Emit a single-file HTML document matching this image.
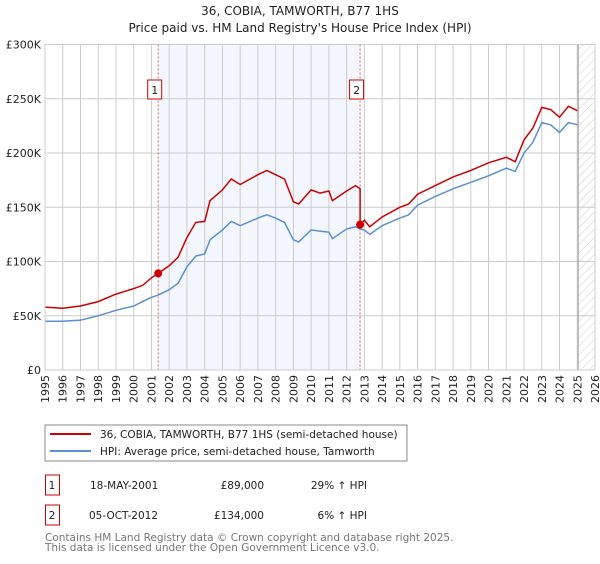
<!DOCTYPE html>
<html><head><meta charset="utf-8">
<style>
body{margin:0;background:#fff;width:600px;height:560px;overflow:hidden;font-family:"DejaVu Sans","Liberation Sans",sans-serif;}
svg text{font-family:"DejaVu Sans","Liberation Sans",sans-serif;}
</style></head><body>
<svg id="chart" width="600" height="560" xmlns="http://www.w3.org/2000/svg">
<defs><pattern id="hatch" width="6" height="6" patternUnits="userSpaceOnUse" patternTransform="rotate(45)"><line x1="0" y1="0" x2="0" y2="6" stroke="#ccc" stroke-width="1"/></pattern></defs>
<text x="300" y="15" text-anchor="middle" font-size="12" fill="#222">36, COBIA, TAMWORTH, B77 1HS</text>
<text x="300" y="32" text-anchor="middle" font-size="12" fill="#222">Price paid vs. HM Land Registry's House Price Index (HPI)</text>
<g id="plot"></g>
<rect x="45" y="425" width="362" height="36" fill="#fff" stroke="#888"/>
<line x1="50" y1="434" x2="91" y2="434" stroke="#cc0000" stroke-width="2"/>
<text x="100" y="438" font-size="10.5" fill="#222">36, COBIA, TAMWORTH, B77 1HS (semi-detached house)</text>
<line x1="50" y1="451" x2="91" y2="451" stroke="#5b8fd0" stroke-width="2"/>
<text x="100" y="455" font-size="10.5" fill="#222">HPI: Average price, semi-detached house, Tamworth</text>
<g font-size="10.5" fill="#222">
<rect x="45.5" y="475" width="14" height="20" fill="#fff" stroke="#cc0000"/>
<text x="52" y="489" text-anchor="middle">1</text>
<text x="90" y="489">18-MAY-2001</text>
<text x="264" y="489" text-anchor="end">£89,000</text>
<text x="367" y="489" text-anchor="end">29% ↑ HPI</text>
</g>
<g font-size="10.5" fill="#222">
<rect x="45.5" y="505" width="14" height="20" fill="#fff" stroke="#cc0000"/>
<text x="52" y="519" text-anchor="middle">2</text>
<text x="89" y="519">05-OCT-2012</text>
<text x="264" y="519" text-anchor="end">£134,000</text>
<text x="367" y="519" text-anchor="end">6% ↑ HPI</text>
</g>
<text x="45" y="541" font-size="10.5" fill="#777">Contains HM Land Registry data © Crown copyright and database right 2025.</text>
<text x="45" y="551" font-size="10.5" fill="#777">This data is licensed under the Open Government Licence v3.0.</text>
</svg>
<script>
const years=[1995,1996,1997,1998,1999,2000,2000.5,2001,2001.38,2002,2002.5,2003,2003.5,2004,2004.3,2005,2005.5,2006,2007,2007.5,2008,2008.5,2009,2009.3,2010,2010.5,2011,2011.2,2012,2012.5,2012.76,2013,2013.3,2014,2015,2015.5,2016,2017,2018,2019,2020,2021,2021.5,2022,2022.5,2023,2023.5,2024,2024.5,2025];
const hpiValues=[45,45,46,50,55,59,63,67,69,74,80,95,105,107,120,129,137,133,140,143,140,136,120,118,129,128,127,121,130,132,130,129,125,133,140,143,152,160,167,173,179,186,183,200,210,228,226,219,228,226];
const propertyValues=[58,57,59,63,70,75,78,85,89,96,104,122,136,137,156,166,176,171,180,184,180,176,155,153,166,163,165,156,165,170,167,138,132,141,150,153,162,170,178,184,191,196,192,212,223,242,240,233,243,239];
const saleYears=[2001.38,2012.76];
const salePrices=[89,134];
const saleLabels=["1","2"];
const yTicks=[0,50,100,150,200,250,300];
const yTickLabels=["£0","£50K","£100K","£150K","£200K","£250K","£300K"];
const xTicks=[1995,1996,1997,1998,1999,2000,2001,2002,2003,2004,2005,2006,2007,2008,2009,2010,2011,2012,2013,2014,2015,2016,2017,2018,2019,2020,2021,2022,2023,2024,2025,2026];
const X0=45,X1=595,Y0=370,Y1=44.5;
const xs=y=>X0+(y-1995)/(2026-1995)*(X1-X0);
const ys=v=>Y0-v/300*(Y0-Y1);
const NS="http://www.w3.org/2000/svg";
const g=document.getElementById('plot');
function mk(t,a){const e=document.createElementNS(NS,t);for(const k in a)e.setAttribute(k,a[k]);g.appendChild(e);return e;}
let e;
e=mk('rect',{x:xs(saleYears[0]),y:Y1,width:xs(saleYears[1])-xs(saleYears[0]),height:Y0-Y1,fill:'#eef2fc',opacity:0.7});


e=mk('rect',{x:xs(2025.05),y:Y1,width:X1-xs(2025.05),height:Y0-Y1,fill:'url(#hatch)'});


yTicks.forEach((v,i)=>{
 e=mk('line',{x1:X0,x2:X1,y1:ys(v),y2:ys(v),stroke:'#ccc','stroke-width':1});
 
 
 e=mk('text',{x:41,y:ys(v)+4,'text-anchor':'end','font-size':11,fill:'#222'});
 e.textContent=yTickLabels[i];
 
 
});
xTicks.forEach(y=>{
 e=mk('line',{x1:xs(y),x2:xs(y),y1:Y1,y2:Y0,stroke:'#ccc','stroke-width':1});
 
 
 e=mk('text',{x:0,y:0,'text-anchor':'end','font-size':11,fill:'#222',transform:`translate(${xs(y)+4},${Y0+5}) rotate(-90)`});
 e.textContent=y;
 
 
});
e=mk('line',{x1:xs(2025.05),x2:xs(2025.05),y1:Y1,y2:Y0,stroke:'#999','stroke-width':1});


saleYears.forEach((y,i)=>{
 e=mk('line',{x1:xs(y),x2:xs(y),y1:Y1,y2:Y0,stroke:'#e06060','stroke-width':1,'stroke-dasharray':'2,2'});
 
 
 e=mk('rect',{x:xs(y)-10.5,y:80,width:14,height:19,fill:'#fff',stroke:'#cc0000'});
 
 
 e=mk('text',{x:xs(y)-3.5,y:94,'text-anchor':'middle','font-size':11,fill:'#222'});
 e.textContent=saleLabels[i];
 
 
});
const pts=(vals)=>years.map((y,i)=>xs(y).toFixed(1)+','+ys(vals[i]).toFixed(1)).join(' ');
e=mk('polyline',{points:pts(hpiValues),fill:'none',stroke:'#5b8fd0','stroke-width':1.5});


let pp=[];years.forEach((y,i)=>{pp.push(xs(y).toFixed(1)+','+ys(propertyValues[i]).toFixed(1));if(y===saleYears[1])pp.push(xs(y).toFixed(1)+','+ys(salePrices[1]).toFixed(1));});
e=mk('polyline',{points:pp.join(' '),fill:'none',stroke:'#cc0000','stroke-width':1.5});


saleYears.forEach((y,i)=>{
 e=mk('circle',{cx:xs(y),cy:ys(salePrices[i]),r:4,fill:'#cc0000'});
 
 
});
e=mk('rect',{x:X0,y:Y1,width:X1-X0,height:Y0-Y1,fill:'none',stroke:'#ccc'});


</script>
</body></html>
